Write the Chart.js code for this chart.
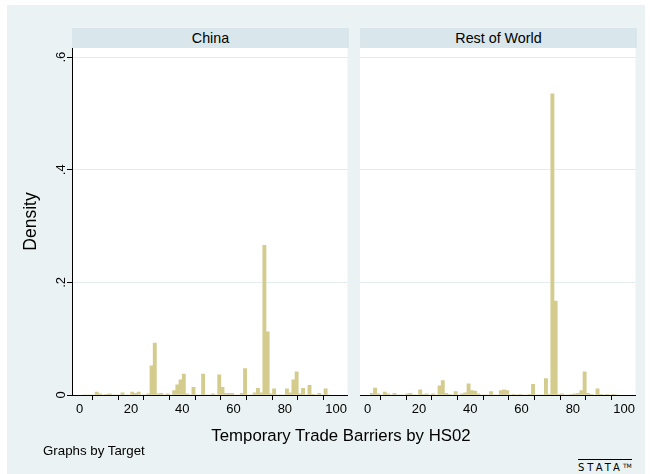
<!DOCTYPE html>
<html>
<head>
<meta charset="utf-8">
<script src="https://cdn.jsdelivr.net/npm/chart.js@4.4.1/dist/chart.umd.min.js"></script>
<style>
  html, body { margin: 0; padding: 0; background: #ffffff; }
  #page { position: relative; width: 650px; height: 474px; overflow: hidden; background: #ffffff;
          font-family: "Liberation Sans", Arial, sans-serif; color: #000; }
  #region { position: absolute; left: 7px; top: 5px; width: 638px; height: 469px; background: #eaf2f3; }
  .strip { position: absolute; top: 28px; height: 20px; width: 277px; background: #d9e6eb;
           font-size: 14.3px; line-height: 20px; text-align: center; }
  canvas { position: absolute; top: 48px; }
  #xtitle { position: absolute; left: 341px; top: 426px; transform: translateX(-50%);
            font-size: 16.8px; line-height: 20px; white-space: nowrap; }
  #note { position: absolute; left: 43px; top: 443px; font-size: 13.3px; line-height: 16px; white-space: nowrap; }
  #logo { position: absolute; left: 578px; top: 459px; font-family: "DejaVu Sans", sans-serif;
          font-size: 10px; line-height: 10px; letter-spacing: 3px; border-top: 1px solid #000; padding-top: 1px; }
  #logo sup { font-size: 6px; letter-spacing: 0; vertical-align: 3px; }
</style>
</head>
<body>
<div id="page">
  <div id="region"></div>
  <div class="strip" style="left:72px;">China</div>
  <div class="strip" style="left:360px;">Rest of World</div>
  <canvas id="china" width="349" height="387" style="left:0px;"></canvas>
  <canvas id="row" width="277" height="387" style="left:360px;"></canvas>
  <div id="xtitle">Temporary Trade Barriers by HS02</div>
  <div id="note">Graphs by Target</div>
  <div id="logo">STATA<sup>TM</sup></div>
</div>
<script>
// Histogram bins of HS02 chapter: lower edge of first bin and bin width
const binStart = 1;
const binWidth = 1.257;

// Density per bin, target = China
const chinaDensity = [
  0, 0, 0, 0, 0.005, 0.002, 0, 0.001, 0.002, 0,
  0, 0, 0.004, 0, 0, 0.005, 0.003, 0.005, 0, 0,
  0.002, 0.052, 0.092, 0.002, 0.003, 0, 0.002, 0, 0.008, 0.018,
  0.027, 0.037, 0.002, 0, 0.0135, 0, 0, 0.037, 0, 0,
  0.002, 0, 0.036, 0.0135, 0.003, 0.003, 0.003, 0, 0, 0.003,
  0.047, 0, 0, 0.004, 0.012, 0.004, 0.266, 0.112, 0.002, 0.011,
  0, 0, 0, 0.011, 0.004, 0.027, 0.041, 0.002, 0.012, 0,
  0.017, 0.001, 0, 0.003, 0, 0.011, 0
];

// Density per bin, target = Rest of World
const rowDensity = [
  0.003, 0.0125, 0.002, 0, 0.005, 0.002, 0, 0.003, 0, 0,
  0, 0.002, 0.003, 0, 0, 0.009, 0.001, 0.002, 0, 0.002,
  0, 0.0165, 0.0255, 0.003, 0.001, 0, 0.006, 0, 0.002, 0.004,
  0.02, 0.008, 0.007, 0.002, 0, 0, 0, 0.006, 0, 0,
  0.008, 0.009, 0.008, 0, 0.001, 0, 0.001, 0, 0, 0.001,
  0.019, 0, 0, 0, 0.029, 0.001, 0.535, 0.167, 0.001, 0.002,
  0, 0, 0.001, 0.002, 0.003, 0.008, 0.041, 0.003, 0.001, 0,
  0.011, 0.001, 0, 0.001, 0, 0.001, 0
];

const panelTitles = ['China', 'Rest of World'];
const xLabelStep = 20;   // labelled ticks
const xTickStep = 10;    // all tick marks
const yTickStep = 0.2;

const X_MIN = -3.0, X_MAX = 104.4;
const Y_MAX = 0.6163;
const BAR_FILL = '#d4cc8c';
const GRID = '#e3edef';

Chart.defaults.font.family = '"Liberation Sans", Arial, sans-serif';
Chart.defaults.color = '#000';

// Stata-style density labels: 0, .2, .4, .6
function fmtDensity(v) {
  if (Math.abs(v) < 1e-9) return '0';
  return v.toFixed(1).replace(/^0\./, '.');
}

function toBins(values) {
  return values.map((d, k) => ({ x: binStart + (k + 0.5) * binWidth, y: d }));
}

// white plot region behind the bars
const plotBackground = {
  id: 'plotBackground',
  beforeDraw(chart) {
    const { ctx, chartArea: a } = chart;
    ctx.save();
    ctx.fillStyle = '#ffffff';
    ctx.fillRect(a.left, a.top, a.right - a.left, a.bottom - a.top);
    ctx.restore();
  }
};

// y tick labels written vertically, as Stata does
const verticalTickLabels = {
  id: 'verticalTickLabels',
  afterDraw(chart, args, opts) {
    if (!opts || !opts.show) return;
    const ys = chart.scales.y;
    const ctx = chart.ctx;
    ctx.save();
    ctx.font = '13px "Liberation Sans", Arial, sans-serif';
    ctx.fillStyle = '#000';
    ctx.textAlign = 'center';
    ctx.textBaseline = 'middle';
    ys.ticks.forEach(t => {
      const py = ys.getPixelForValue(t.value);
      ctx.save();
      ctx.translate(opts.x, py);
      ctx.rotate(-Math.PI / 2);
      ctx.fillText(fmtDensity(t.value), 0, 0);
      ctx.restore();
    });
    ctx.restore();
  }
};

function makePanel(canvasId, values, withYAxis) {
  return new Chart(document.getElementById(canvasId), {
    type: 'bar',
    data: {
      datasets: [{
        label: 'Density',
        data: toBins(values),
        backgroundColor: BAR_FILL,
        borderWidth: 0,
        barPercentage: 1,
        categoryPercentage: 1
      }]
    },
    options: {
      responsive: false,
      animation: false,
      layout: { padding: 0 },
      plugins: {
        legend: { display: false },
        tooltip: { enabled: false },
        verticalTickLabels: { show: withYAxis, x: 61 }
      },
      scales: {
        x: {
          type: 'linear',
          min: X_MIN,
          max: X_MAX,
          offset: false,
          ticks: {
            stepSize: xTickStep,
            includeBounds: false,
            autoSkip: false,
            maxRotation: 0,
            minRotation: 0,
            padding: 2,
            font: { size: 13 },
            color: '#000',
            callback: v => (Math.round(v) % xLabelStep === 0 ? String(Math.round(v)) : '')
          },
          grid: { drawOnChartArea: false, drawTicks: true, tickLength: 5, tickColor: '#000' },
          border: { display: true, color: '#000', width: 1 },
          afterFit(s) { s.height = 40; }
        },
        y: {
          min: 0,
          max: Y_MAX,
          ticks: { stepSize: yTickStep, includeBounds: false, display: false },
          grid: {
            color: c => (c.tick && Math.abs(c.tick.value) < 1e-9 ? 'rgba(0,0,0,0)' : GRID),
            drawTicks: withYAxis,
            tickLength: 5,
            tickColor: '#000'
          },
          border: { display: withYAxis, color: '#000', width: 1 },
          title: {
            display: withYAxis,
            text: 'Density',
            font: { size: 17.5 },
            color: '#000',
            padding: { top: 21, bottom: 0 }
          },
          afterFit(s) { s.width = withYAxis ? 72 : 0; }
        }
      }
    },
    plugins: [plotBackground, verticalTickLabels]
  });
}

makePanel('china', chinaDensity, true);
makePanel('row', rowDensity, false);
</script>
</body>
</html>
